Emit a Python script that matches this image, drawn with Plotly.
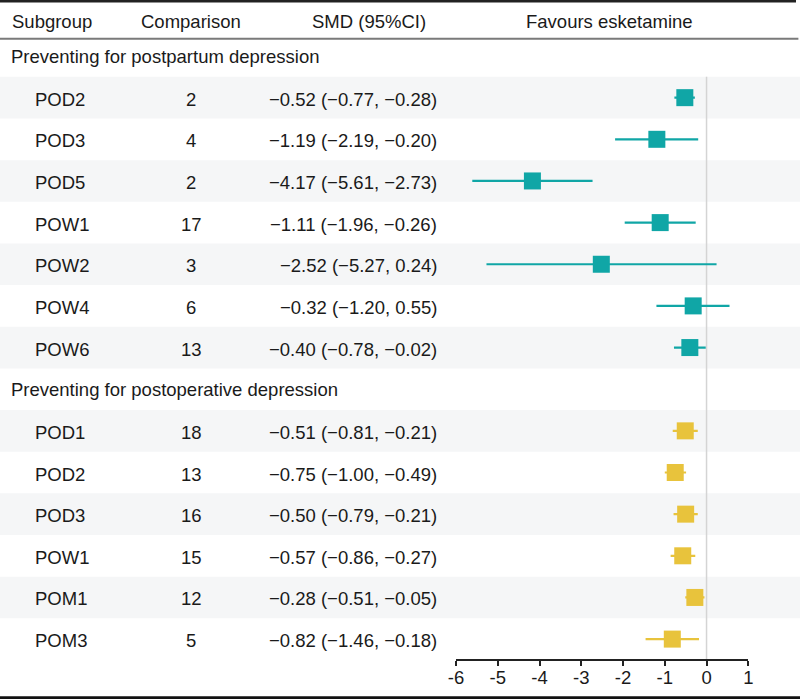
import plotly.graph_objects as go

# ---------------- data ----------------
group_titles = ["Preventing for postpartum depression",
                "Preventing for postoperative depression"]

g1_labels = ["POD2", "POD3", "POD5", "POW1", "POW2", "POW4", "POW6"]
g1_n = [2, 4, 2, 17, 3, 6, 13]
g1_smd = [-0.52, -1.19, -4.17, -1.11, -2.52, -0.32, -0.40]
g1_lo = [-0.77, -2.19, -5.61, -1.96, -5.27, -1.20, -0.78]
g1_hi = [-0.28, -0.20, -2.73, -0.26, 0.24, 0.55, -0.02]

g2_labels = ["POD1", "POD2", "POD3", "POW1", "POM1", "POM3"]
g2_n = [18, 13, 16, 15, 12, 5]
g2_smd = [-0.51, -0.75, -0.50, -0.57, -0.28, -0.82]
g2_lo = [-0.81, -1.00, -0.79, -0.86, -0.51, -1.46]
g2_hi = [-0.21, -0.49, -0.21, -0.27, -0.05, -0.18]

headers = ["Subgroup", "Comparison", "SMD (95%CI)", "Favours esketamine"]
tick_vals = [-6, -5, -4, -3, -2, -1, 0, 1]
tick_text = ["-6", "-5", "-4", "-3", "-2", "-1", "0", "1"]

# ---------------- layout helpers ----------------
W, H = 800, 699
ROW0_PX = 56.0
ROW_PX = 41.65
FONT = "Liberation Sans, Arial, Helvetica, sans-serif"
FS = 18.5
TXT = "#1a1a1a"
TEAL = "#10a6a6"
GOLD = "#e8c33c"
BAND = "#f5f6f7"


def px2row(py):
    return (py - ROW0_PX) / ROW_PX


def fmt(v):
    return f"{v:.2f}".replace("-", "\u2212")


groups = [
    (group_titles[0], g1_labels, g1_n, g1_smd, g1_lo, g1_hi, TEAL),
    (group_titles[1], g2_labels, g2_n, g2_smd, g2_lo, g2_hi, GOLD),
]

fig = go.Figure()
annotations = []
shapes = []


def txt(x_px, y, s, anchor, shift=0):
    annotations.append(dict(
        x=x_px / W, xref="paper", y=y, yref="y", text=s, showarrow=False,
        xanchor=anchor, yanchor="middle", yshift=shift,
        font=dict(family=FONT, size=FS, color=TXT)))


hy = px2row(21.5)
txt(10, hy, headers[0], "left")
txt(191, hy, headers[1], "center")
txt(369, hy, headers[2], "center")
txt(609.6, hy, headers[3], "center")

row = 0
for title, labels, ns, smd, lo, hi, col in groups:
    txt(9, row, title, "left")
    row += 1
    ys = []
    for k, (lab, n, m, l, h) in enumerate(zip(labels, ns, smd, lo, hi)):
        if k % 2 == 0:
            shapes.append(dict(type="rect", xref="paper", yref="y",
                               x0=0, x1=1, y0=row - 0.5, y1=row + 0.5,
                               fillcolor=BAND, line=dict(width=0),
                               layer="below"))
        txt(33, row, lab, "left", -1.5)
        txt(191, row, str(n), "center", -1.5)
        txt(438.5, row, f"{fmt(m)} ({fmt(l)}, {fmt(h)})", "right", -1.5)
        ys.append(row)
        row += 1
    fig.add_trace(go.Scatter(
        x=smd, y=ys, mode="markers",
        marker=dict(symbol="square", size=17, color=col, line=dict(width=0)),
        error_x=dict(type="data", symmetric=False,
                     array=[h - m for m, h in zip(smd, hi)],
                     arrayminus=[m - l for m, l in zip(smd, lo)],
                     color=col, thickness=2.2, width=0),
        hoverinfo="skip", showlegend=False, cliponaxis=False))

AXIS_PX = 660
shapes.append(dict(type="line", xref="x", yref="y", x0=0, x1=0,
                   y0=0.5, y1=px2row(AXIS_PX),
                   line=dict(color="#d4d4d4", width=1.5), layer="below"))
shapes.append(dict(type="line", xref="paper", yref="y", x0=0, x1=0.995,
                   y0=px2row(1.3), y1=px2row(1.3),
                   line=dict(color="#222222", width=2.6)))
shapes.append(dict(type="line", xref="paper", yref="y", x0=0, x1=0.998,
                   y0=px2row(38.8), y1=px2row(38.8),
                   line=dict(color="#7a7a7a", width=2)))
shapes.append(dict(type="line", xref="paper", yref="y", x0=0, x1=1,
                   y0=px2row(697.8), y1=px2row(697.8),
                   line=dict(color="#111111", width=3)))

fig.update_layout(
    width=W, height=H,
    margin=dict(l=0, r=0, t=0, b=0, pad=0, autoexpand=False),
    paper_bgcolor="white", plot_bgcolor="rgba(0,0,0,0)",
    font=dict(family=FONT, size=FS, color=TXT),
    annotations=annotations, shapes=shapes,
    xaxis=dict(domain=[456 / W, 748.3 / W], range=[-6, 1],
               anchor="free", position=1 - AXIS_PX / H, automargin=False,
               showline=True, linecolor="#222222", linewidth=2,
               ticks="outside", ticklen=5, tickwidth=2, tickcolor="#222222",
               tickvals=tick_vals, ticktext=tick_text,
               ticklabelstandoff=-4,
               tickfont=dict(family=FONT, size=FS, color=TXT),
               showgrid=False, zeroline=False, fixedrange=True),
    yaxis=dict(domain=[0, 1], range=[px2row(H), px2row(0)],
               autorange=False, visible=False, showgrid=False,
               zeroline=False, fixedrange=True, automargin=False),
)

fig.write_html(
    "out.html",
    config={"displayModeBar": False, "responsive": False},
    post_script="document.body.style.margin='0';"
                "document.body.style.padding='0';"
                "document.documentElement.style.overflow='hidden';"
                "document.body.style.overflow='hidden';",
)
